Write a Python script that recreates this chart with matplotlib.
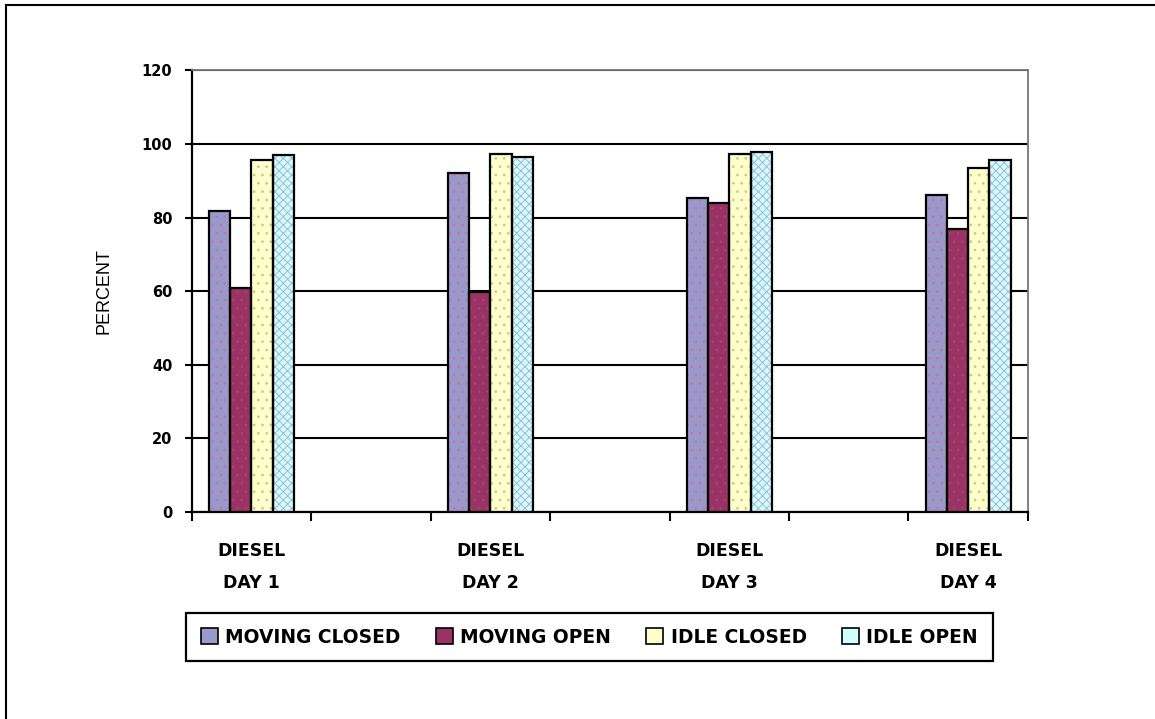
import matplotlib.pyplot as plt
import numpy as np
from matplotlib.lines import Line2D
from matplotlib.patches import Patch

# slot layout: one diesel day every other slot on the category axis
day_labels = ["DIESEL\nDAY 1", "DIESEL\nDAY 2", "DIESEL\nDAY 3", "DIESEL\nDAY 4"]
day_slots = [0, 2, 4, 6]
n_slots = 7

series_names = ["MOVING CLOSED", "MOVING OPEN", "IDLE CLOSED", "IDLE OPEN"]
moving_closed = [81.7, 92.0, 85.3, 86.1]
moving_open = [60.8, 59.8, 83.9, 76.8]
idle_closed = [95.6, 97.2, 97.3, 93.5]
idle_open = [97.0, 96.4, 97.8, 95.6]
series_values = [moving_closed, moving_open, idle_closed, idle_open]

y_ticks = [0, 20, 40, 60, 80, 100, 120]

fills = ["#9999CC", "#993366", "#FFFFCC", "#CCFFFF"]
dot_colors = ["#D070A0", "#B04070", "#C8C890", "#B0B4D0"]
hatches = ["..", "..", "..", "xxxx"]

plt.rcParams["hatch.linewidth"] = 0.7

fig = plt.figure(figsize=(11.55, 7.19), dpi=100)
ax = fig.add_axes([0.166, 0.288, 0.724, 0.614])

bar_w = 0.178
x = np.array(day_slots, dtype=float)
for i, vals in enumerate(series_values):
    pos = x + (i - 1.5) * bar_w
    # patterned fill first, then a plain black outline on top
    ax.bar(pos, vals, width=bar_w, color=fills[i], edgecolor=dot_colors[i],
           hatch=hatches[i], linewidth=0, zorder=3)
    ax.bar(pos, vals, width=bar_w, fill=False, edgecolor="black",
           linewidth=1.6, zorder=4)

ax.set_xlim(-0.5, n_slots - 0.5)
ax.set_ylim(0, 120)

ax.set_yticks(y_ticks)
ax.set_yticklabels([str(t) for t in y_ticks], fontsize=10.5,
                   fontweight="bold", family="DejaVu Sans")
ax.tick_params(axis="y", direction="out", length=5, width=1.5, pad=9)
ax.yaxis.grid(True, color="black", linewidth=1.5)
ax.set_axisbelow(True)

ax.set_xticks(day_slots)
ax.set_xticklabels(day_labels, fontsize=12.5, fontweight="bold",
                   family="DejaVu Sans", linespacing=2.0)
ax.set_xticks(np.arange(-0.5, n_slots, 1.0), minor=True)
ax.tick_params(axis="x", which="major", length=0, pad=22)
ax.tick_params(axis="x", which="minor", direction="out", length=6.5, width=1.5)

for side in ["left", "bottom"]:
    ax.spines[side].set_linewidth(1.6)
    ax.spines[side].set_color("black")
for side in ["top", "right"]:
    ax.spines[side].set_linewidth(1.3)
    ax.spines[side].set_color("#777777")
    ax.spines[side].set_linestyle((0, (1, 1)))

ax.set_ylabel("PERCENT", fontsize=13, family="Liberation Sans", labelpad=21)

handles = [Patch(facecolor=fills[i], edgecolor="black", linewidth=1.2)
           for i in range(len(series_names))]
leg = fig.legend(handles, series_names, loc="center", ncol=4,
                 bbox_to_anchor=(0.5104, 0.114),
                 prop={"family": "DejaVu Sans", "weight": "bold", "size": 13.4},
                 handlelength=0.9, handleheight=0.9, handletextpad=0.4,
                 columnspacing=1.9, borderpad=0.8, borderaxespad=0,
                 fancybox=False, edgecolor="black", framealpha=1)
leg.get_frame().set_linewidth(1.6)

# outer chart frame (top and left edges)
fig.add_artist(Line2D([6 / 1155, 6 / 1155], [0, 1 - 5 / 719],
                      transform=fig.transFigure, color="black", linewidth=1.5))
fig.add_artist(Line2D([6 / 1155, 1], [1 - 5 / 719, 1 - 5 / 719],
                      transform=fig.transFigure, color="black", linewidth=1.5))

fig.savefig("out.png", dpi=100)
